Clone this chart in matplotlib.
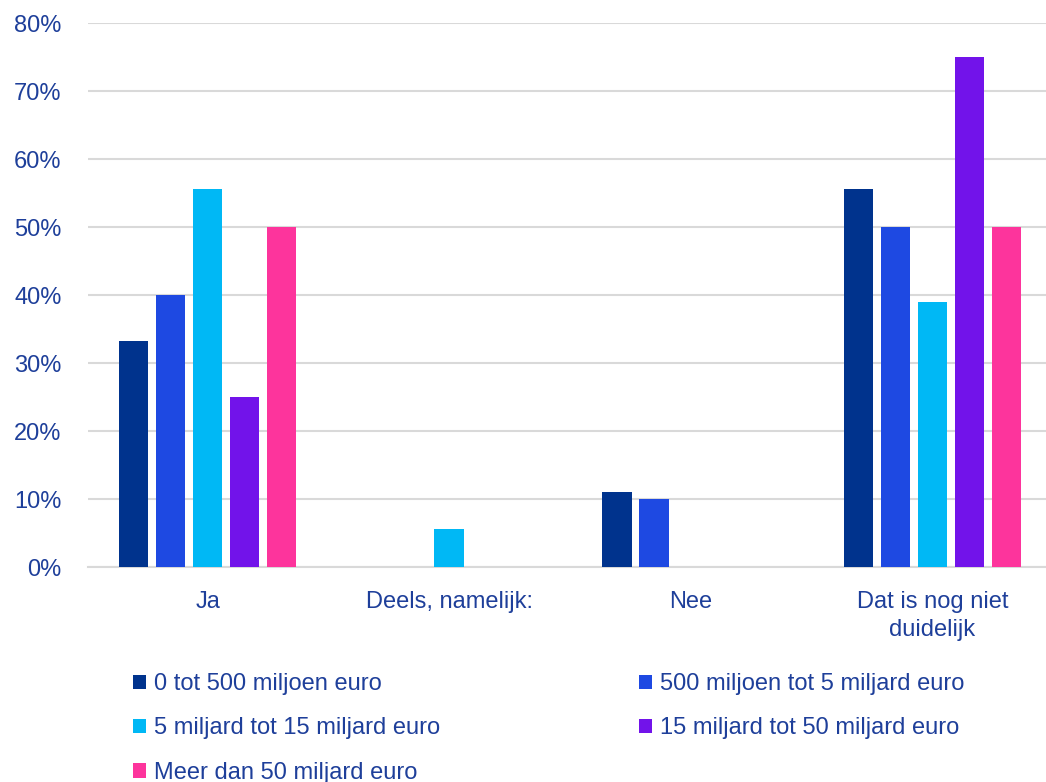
import matplotlib.pyplot as plt
import numpy as np
from matplotlib.patches import Patch
from matplotlib.ticker import FuncFormatter, MultipleLocator

plt.rcParams["font.family"] = ["Liberation Sans", "DejaVu Sans"]

TEXT_COLOR = "#1E3F9A"
GRID_COLOR = "#D9D9D9"
FONT_SIZE = 17

categories = ["Ja", "Deels, namelijk:", "Nee", "Dat is nog niet\nduidelijk"]
series_names = [
    "0 tot 500 miljoen euro",
    "500 miljoen tot 5 miljard euro",
    "5 miljard tot 15 miljard euro",
    "15 miljard tot 50 miljard euro",
    "Meer dan 50 miljard euro",
]
series_colors = ["#00338D", "#1E49E2", "#00B8F5", "#7213EA", "#FD349C"]

# share of respondents per company size (%)
size_0_500m = [33.3, 0.0, 11.1, 55.6]
size_500m_5b = [40.0, 0.0, 10.0, 50.0]
size_5b_15b = [55.6, 5.6, 0.0, 38.9]
size_15b_50b = [25.0, 0.0, 0.0, 75.0]
size_over_50b = [50.0, 0.0, 0.0, 50.0]
series_values = [size_0_500m, size_500m_5b, size_5b_15b, size_15b_50b, size_over_50b]

fig = plt.figure(figsize=(10.46, 7.82), dpi=100)
ax = fig.add_axes([88 / 1046, 1 - 567 / 782, 958 / 1046, 544 / 782])

x = np.arange(len(categories))
bar_width = 0.122
step = 0.153
for i, (values, color, name) in enumerate(zip(series_values, series_colors, series_names)):
    offset = (i - 2) * step
    ax.bar(x + offset, values, width=bar_width, color=color, label=name, zorder=3)

ax.set_xlim(-0.495, 3.47)
ax.set_ylim(0, 80)
ax.yaxis.set_major_locator(MultipleLocator(10))
ax.yaxis.set_major_formatter(FuncFormatter(lambda v, _: f"{v:.0f}%"))
ax.grid(axis="y", color=GRID_COLOR, linewidth=1.5, zorder=0)
ax.set_axisbelow(True)

for side in ["top", "right", "left"]:
    ax.spines[side].set_visible(False)
ax.spines["bottom"].set_color(GRID_COLOR)
ax.spines["bottom"].set_linewidth(1.5)

ax.set_xticks(x)
ax.set_xticklabels(categories, fontsize=FONT_SIZE, color=TEXT_COLOR, linespacing=1.35)
ax.tick_params(axis="x", length=0, pad=17.5)
ax.tick_params(axis="y", length=0, pad=19, labelsize=FONT_SIZE, labelcolor=TEXT_COLOR)

# legend laid out row by row: reorder handles for column-major filling
handles = [Patch(facecolor=c, label=n) for c, n in zip(series_colors, series_names)]
order = [0, 2, 4, 1, 3]
fig.legend(
    [handles[k] for k in order],
    [series_names[k] for k in order],
    ncol=2,
    loc="upper left",
    bbox_to_anchor=(133 / 1046, 1 - 673 / 782),
    frameon=False,
    fontsize=FONT_SIZE,
    labelcolor=TEXT_COLOR,
    handlelength=0.55,
    handleheight=0.55,
    handletextpad=0.35,
    columnspacing=8.4,
    labelspacing=0.95,
    borderaxespad=0,
    borderpad=0,
)

fig.savefig("out.png", dpi=100)
